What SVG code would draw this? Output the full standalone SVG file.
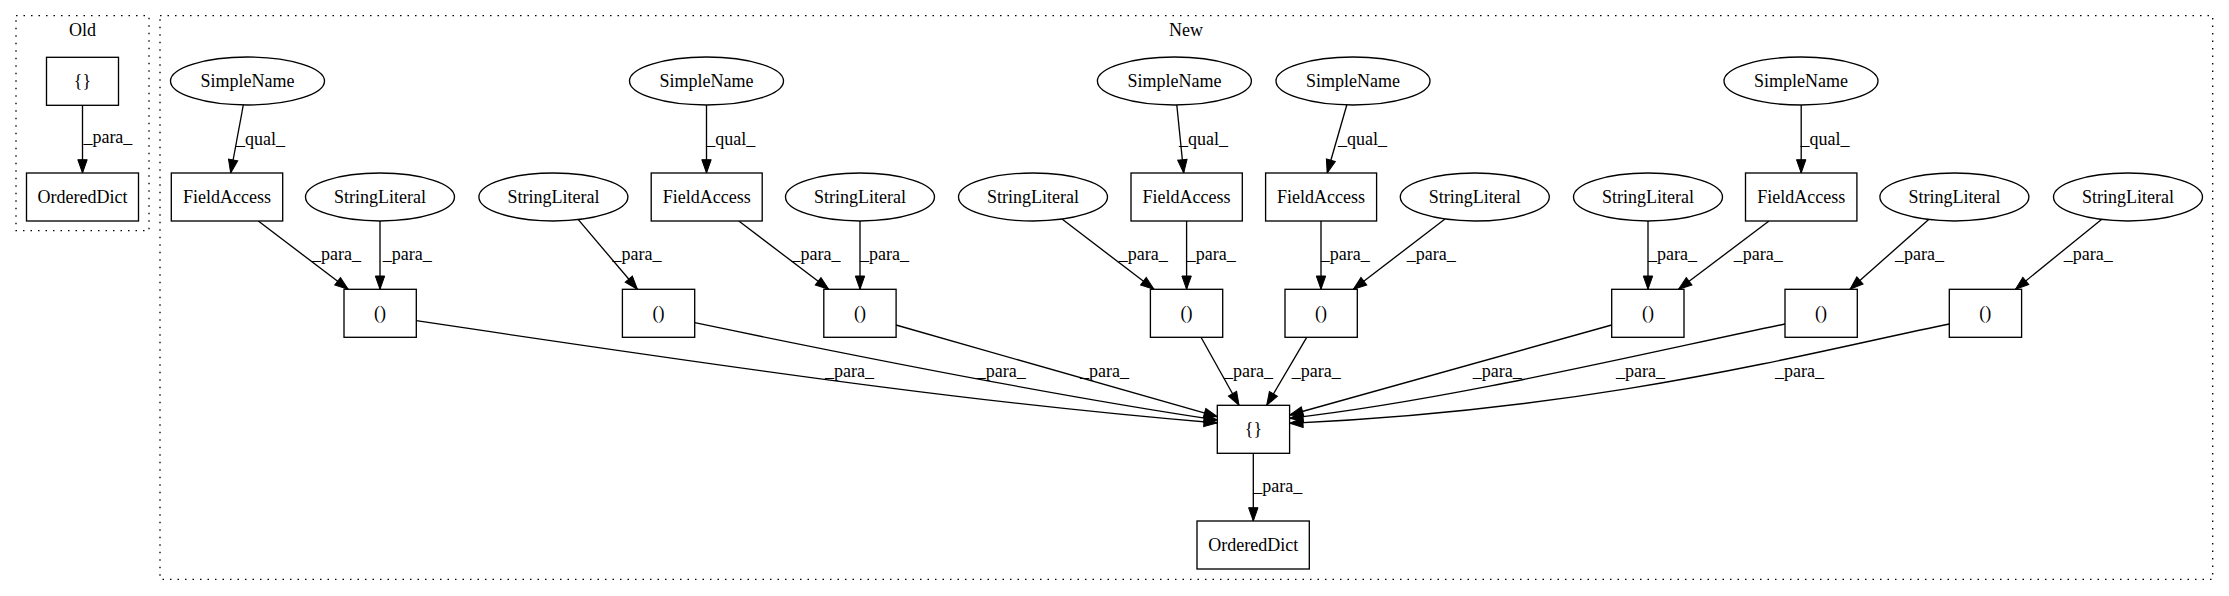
<svg xmlns="http://www.w3.org/2000/svg" width="2229" height="596" viewBox="0 0 2229 596">
<style>
text{font-family:"Liberation Serif","Times New Roman",serif;font-size:18px;fill:#000}
.n rect,.n ellipse{fill:#fff;stroke:#000;stroke-width:1.33}
.n text{text-anchor:middle}
.e path{fill:none;stroke:#000;stroke-width:1.33;marker-end:url(#ah)}
.cl{fill:none;stroke:#000;stroke-width:1.33;stroke-dasharray:1.5,6}
.ct{text-anchor:middle}
</style>
<defs>
<marker id="ah" markerUnits="userSpaceOnUse" markerWidth="14" markerHeight="10" viewBox="0 0 14 10" refX="13.3" refY="4.7" orient="auto" overflow="visible">
<path d="M0,0 L13.3,4.7 L0,9.4 z" fill="#000" stroke="#000" stroke-width="1"/>
</marker>
</defs>
<rect width="2229" height="596" fill="#fff"/>
<g id="cluster_old">
<rect class="cl" x="16" y="15.7" width="133" height="215"/>
<text class="ct" x="82.5" y="35.5">Old</text>
</g>
<g id="cluster_new">
<rect class="cl" x="160" y="15.7" width="2052.7" height="563.6"/>
<text class="ct" x="1186" y="35.5">New</text>
</g>
<g id="edges" class="e">
<path d="M82.5,105.3 L82.5,173"/>
<path d="M243.3,105 L230.7,173"/>
<path d="M706.5,105 L706.5,173"/>
<path d="M1176.8,105 L1183.7,173"/>
<path d="M1346.8,105 L1327.2,173"/>
<path d="M1801.2,105 L1801.2,173"/>
<path d="M258.3,221 L348.2,289.3"/>
<path d="M380,221 L380,289.3"/>
<path d="M578.3,219.6 L637.4,289.3"/>
<path d="M738.8,221 L828.7,289.3"/>
<path d="M860,221 L860,289.3"/>
<path d="M1062,219 L1154,289.3"/>
<path d="M1186.6,221 L1186.6,289.3"/>
<path d="M1321,221 L1321,289.3"/>
<path d="M1445,219 L1353.3,289.3"/>
<path d="M1648,221 L1648,289.3"/>
<path d="M1769,221 L1678.5,289.3"/>
<path d="M1928.7,219.5 L1850,289.3"/>
<path d="M2101.5,219.4 L2015.5,289.3"/>
<path d="M416.3,320.7 C800,378 1000,405 1217.3,423"/>
<path d="M694.7,322.7 C850,355 1050,395 1217.3,420"/>
<path d="M896,325 L1217.3,416.7"/>
<path d="M1201,337.3 L1239,405.3"/>
<path d="M1306.7,337.3 L1266.7,405.3"/>
<path d="M1611.7,325 L1289.7,415"/>
<path d="M1785,324 C1650,352 1450,400 1289.7,418.3"/>
<path d="M1949.3,324 C1820,350 1600,410 1289.7,423.3"/>
<path d="M1253.3,453.3 L1253.3,521"/>
</g>
<g id="edge_labels">
<text x="83.4" y="143">_para_</text>
<text x="236" y="144.5">_qual_</text>
<text x="706.3" y="144.5">_qual_</text>
<text x="1179" y="144.5">_qual_</text>
<text x="1338" y="144.5">_qual_</text>
<text x="1800.5" y="144.5">_qual_</text>
<text x="312" y="260">_para_</text>
<text x="382.7" y="260">_para_</text>
<text x="612.5" y="260">_para_</text>
<text x="791.6" y="260">_para_</text>
<text x="860" y="260">_para_</text>
<text x="1118.8" y="260">_para_</text>
<text x="1186.8" y="260">_para_</text>
<text x="1320.7" y="260">_para_</text>
<text x="1406.8" y="260">_para_</text>
<text x="1648" y="260">_para_</text>
<text x="1733.7" y="260">_para_</text>
<text x="1895" y="260">_para_</text>
<text x="2063.7" y="260">_para_</text>
<text x="825" y="376.5">_para_</text>
<text x="976.7" y="376.5">_para_</text>
<text x="1080" y="376.5">_para_</text>
<text x="1224" y="376.5">_para_</text>
<text x="1291.7" y="376.5">_para_</text>
<text x="1472.7" y="376.5">_para_</text>
<text x="1616" y="376.5">_para_</text>
<text x="1775" y="376.5">_para_</text>
<text x="1253.3" y="492">_para_</text>
</g>
<g id="old_braces" class="n"><rect x="46.5" y="57.3" width="72" height="48"/><text x="82.5" y="87.3">{}</text></g>
<g id="old_ordereddict" class="n"><rect x="26.5" y="173" width="112" height="48"/><text x="82.5" y="203">OrderedDict</text></g>
<g id="sn1" class="n"><ellipse cx="247.5" cy="81" rx="77" ry="24"/><text x="247.5" y="87">SimpleName</text></g>
<g id="sn2" class="n"><ellipse cx="706.5" cy="81" rx="77" ry="24"/><text x="706.5" y="87">SimpleName</text></g>
<g id="sn3" class="n"><ellipse cx="1174.4" cy="81" rx="77" ry="24"/><text x="1174.4" y="87">SimpleName</text></g>
<g id="sn4" class="n"><ellipse cx="1353" cy="81" rx="77" ry="24"/><text x="1353" y="87">SimpleName</text></g>
<g id="sn5" class="n"><ellipse cx="1801" cy="81" rx="77" ry="24"/><text x="1801" y="87">SimpleName</text></g>
<g id="fa1" class="n"><rect x="171.3" y="173" width="111.4" height="48"/><text x="227" y="203">FieldAccess</text></g>
<g id="fa2" class="n"><rect x="651.2" y="173" width="111" height="48"/><text x="706.7" y="203">FieldAccess</text></g>
<g id="fa3" class="n"><rect x="1131" y="173" width="111.3" height="48"/><text x="1186.6" y="203">FieldAccess</text></g>
<g id="fa4" class="n"><rect x="1265.6" y="173" width="111" height="48"/><text x="1321" y="203">FieldAccess</text></g>
<g id="fa5" class="n"><rect x="1745.5" y="173" width="111.4" height="48"/><text x="1801.2" y="203">FieldAccess</text></g>
<g id="sl1" class="n"><ellipse cx="380" cy="197" rx="74.5" ry="24"/><text x="380" y="203">StringLiteral</text></g>
<g id="sl2" class="n"><ellipse cx="553.4" cy="197" rx="74.5" ry="24"/><text x="553.4" y="203">StringLiteral</text></g>
<g id="sl3" class="n"><ellipse cx="860" cy="197" rx="74.5" ry="24"/><text x="860" y="203">StringLiteral</text></g>
<g id="sl4" class="n"><ellipse cx="1033" cy="197" rx="74.5" ry="24"/><text x="1033" y="203">StringLiteral</text></g>
<g id="sl5" class="n"><ellipse cx="1474.8" cy="197" rx="74.5" ry="24"/><text x="1474.8" y="203">StringLiteral</text></g>
<g id="sl6" class="n"><ellipse cx="1648" cy="197" rx="74.5" ry="24"/><text x="1648" y="203">StringLiteral</text></g>
<g id="sl7" class="n"><ellipse cx="1954.4" cy="197" rx="74.5" ry="24"/><text x="1954.4" y="203">StringLiteral</text></g>
<g id="sl8" class="n"><ellipse cx="2128" cy="197" rx="74.5" ry="24"/><text x="2128" y="203">StringLiteral</text></g>
<g id="p1" class="n"><rect x="344" y="289.3" width="72.3" height="48"/><text x="380" y="319.3">()</text></g>
<g id="p2" class="n"><rect x="622.4" y="289.3" width="72.3" height="48"/><text x="658.5" y="319.3">()</text></g>
<g id="p3" class="n"><rect x="823.8" y="289.3" width="72.3" height="48"/><text x="860" y="319.3">()</text></g>
<g id="p4" class="n"><rect x="1150.4" y="289.3" width="72.3" height="48"/><text x="1186.6" y="319.3">()</text></g>
<g id="p5" class="n"><rect x="1285" y="289.3" width="72.3" height="48"/><text x="1321" y="319.3">()</text></g>
<g id="p6" class="n"><rect x="1611.7" y="289.3" width="72.3" height="48"/><text x="1648" y="319.3">()</text></g>
<g id="p7" class="n"><rect x="1785" y="289.3" width="72.3" height="48"/><text x="1821" y="319.3">()</text></g>
<g id="p8" class="n"><rect x="1949.3" y="289.3" width="72.3" height="48"/><text x="1985.3" y="319.3">()</text></g>
<g id="braces" class="n"><rect x="1217.3" y="405.3" width="72.3" height="48"/><text x="1253.4" y="435.3">{}</text></g>
<g id="ordereddict" class="n"><rect x="1197" y="521" width="112.3" height="48"/><text x="1253.2" y="551">OrderedDict</text></g>
</svg>
